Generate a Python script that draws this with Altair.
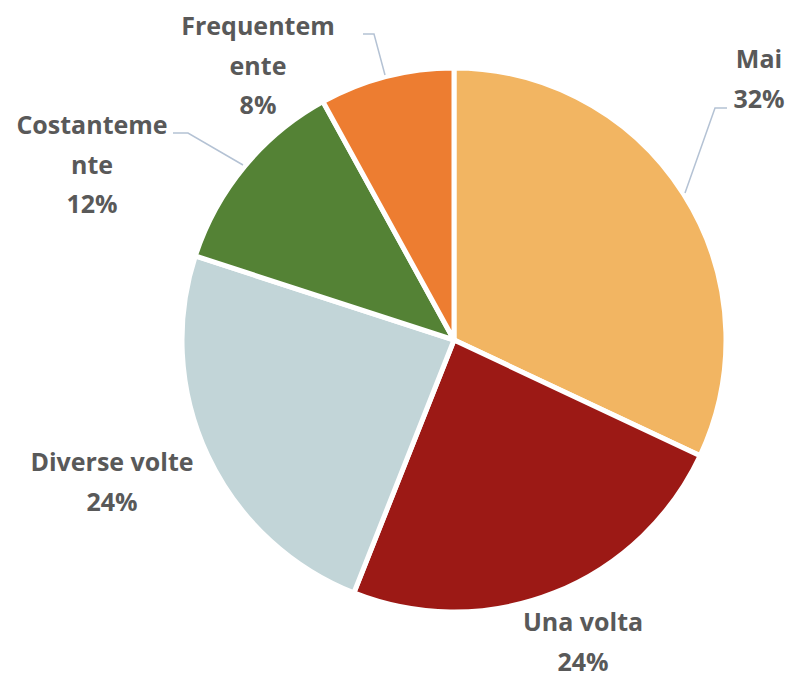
import altair as alt
import pandas as pd

# ---- data ----
categories = ["Mai", "Una volta", "Diverse volte", "Costantemente", "Frequentemente"]
values = [32, 24, 24, 12, 8]
label_lines = [["Mai"], ["Una volta"], ["Diverse volte"], ["Costanteme", "nte"], ["Frequentem", "ente"]]
colors = ["#F2B562", "#9C1915", "#C2D5D8", "#548235", "#ED7D31"]

# ---- layout (pixel positions inside the chart, not data) ----
W, H = 777, 668
CX, CY, R = 446, 332, 272
label_anchor = {  # center x, first baseline y
    "Mai": (751, 60),
    "Una volta": (575, 623),
    "Diverse volte": (104, 463),
    "Costantemente": (84, 126),
    "Frequentemente": (250, 27),
}
LINE_H = 39.5
leaders = {
    "Mai": [(719, 100), (707, 100), (677, 185)],
    "Costantemente": [(165, 125), (180, 125), (235, 157)],
    "Frequentemente": [(355, 26), (366, 26), (377, 67)],
}

pie_df = pd.DataFrame({"cat": categories, "val": values, "idx": list(range(len(categories)))})

rows = []
for cat, val, lines in zip(categories, values, label_lines):
    ax, ay = label_anchor[cat]
    for i, t in enumerate(lines + [f"{val}%"]):
        rows.append({"cat": cat, "text": t, "x": ax, "y": ay + i * LINE_H})
text_df = pd.DataFrame(rows)

lrows = []
for cat, pts in leaders.items():
    for i, (x, y) in enumerate(pts):
        lrows.append({"cat": cat, "o": i, "x": x, "y": y})
line_df = pd.DataFrame(lrows)

xs = alt.Scale(domain=[0, W], range=[0, W])
ys = alt.Scale(domain=[0, H], range=[0, H])

pie = alt.Chart(pie_df).mark_arc(radius=R, stroke="white", strokeWidth=5).encode(
    theta=alt.Theta("val:Q", stack=True),
    color=alt.Color("cat:N", scale=alt.Scale(domain=categories, range=colors), legend=None),
    order=alt.Order("idx:Q"),
    x=alt.value(CX),
    y=alt.value(CY),
)

lines = alt.Chart(line_df).mark_line(color="#B4C2D4", strokeWidth=1.5).encode(
    x=alt.X("x:Q", scale=xs, axis=None),
    y=alt.Y("y:Q", scale=ys, axis=None),
    detail="cat:N",
    order="o:Q",
)

texts = alt.Chart(text_df).mark_text(
    font="Open Sans", fontWeight="bold", fontSize=25, color="#595959",
    align="center", baseline="alphabetic",
).encode(
    x=alt.X("x:Q", scale=xs, axis=None),
    y=alt.Y("y:Q", scale=ys, axis=None),
    text="text:N",
)

chart = alt.layer(pie, lines, texts).properties(
    width=W, height=H, padding=0, autosize=alt.AutoSizeParams(type="none")
).configure_view(stroke=None)

chart.save("out.html", embed_options={"renderer": "svg", "actions": False})
